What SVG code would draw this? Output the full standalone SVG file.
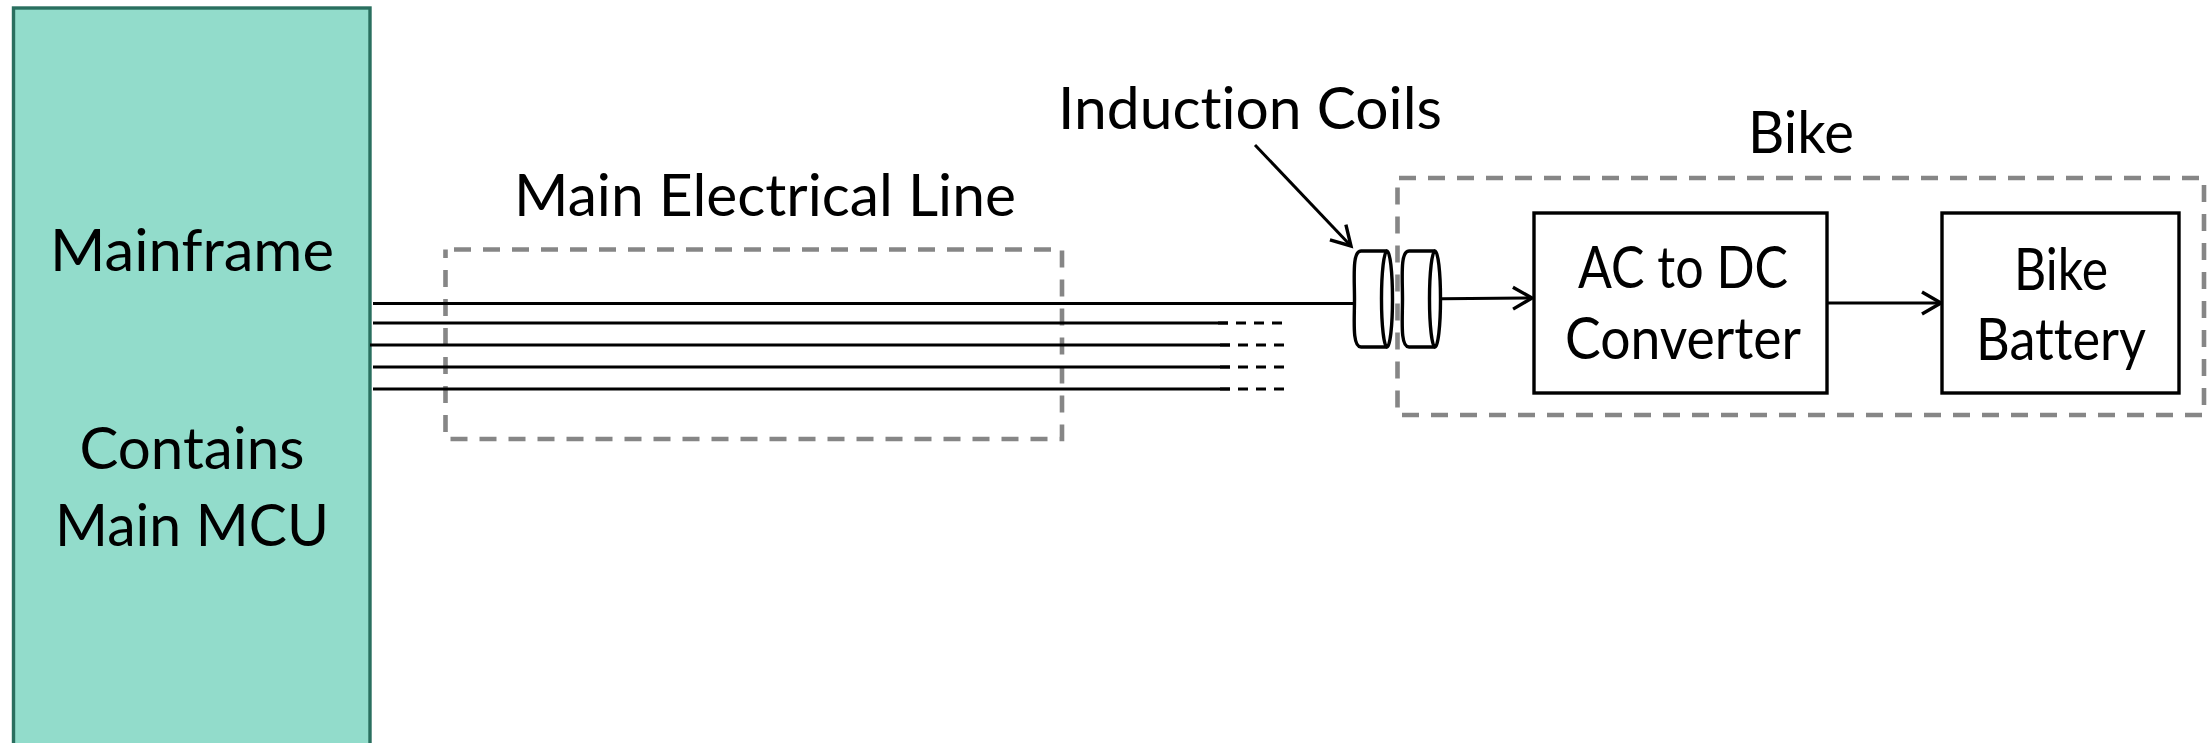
<svg xmlns="http://www.w3.org/2000/svg" width="2211" height="743" viewBox="0 0 2211 743">
<style>
text{font-family:Lato,"Noto Sans",sans-serif;font-size:59px;fill:#000;text-anchor:middle;font-variant-ligatures:none}
.box{fill:#fff;stroke:#000;stroke-width:3.4}
.dash{fill:none;stroke:#868686;stroke-width:4.6;stroke-dasharray:17 12}
.ln{fill:none;stroke:#000;stroke-width:3}
.ds{fill:none;stroke:#000;stroke-width:3;stroke-dasharray:10 8}
.coil{fill:#fff;stroke:#000;stroke-width:3.4;stroke-linejoin:round}
</style>
<defs>
<marker id="arr" markerUnits="userSpaceOnUse" markerWidth="26" markerHeight="30" refX="22" refY="15" orient="auto" viewBox="0 0 26 30">
<path d="M3 4 L22 15 L3 26" fill="none" stroke="#000" stroke-width="3.4"/>
</marker>
</defs>
<g id="main-electrical-line"><path class="dash" d="M454 249.500H1062V439H445.500V249.500"/></g>
<g id="bike"><path class="dash" d="M1399 178H2204V415H1397.500V178"/></g>
<g id="mainframe">
<rect x="13.500" y="8" width="356.500" height="740" fill="#92dccb" stroke="#2a6f5f" stroke-width="3.400"/>
<text x="192" y="270.500" textLength="284" lengthAdjust="spacingAndGlyphs">Mainframe</text>
<text x="192" y="468.500" textLength="225" lengthAdjust="spacingAndGlyphs">Contains</text>
<text x="192" y="545.500" textLength="274" lengthAdjust="spacingAndGlyphs">Main MCU</text>
</g>
<g id="connectors">
<path class="ln" d="M373 303.500H1355M373 323H1228M370 345H1230M373 367H1230M373 389H1230"/>
<path class="ds" d="M1218 323H1282M1220 345H1284M1220 367H1284M1220 389H1284"/>
<path class="ln" d="M1442 298.700L1532 298" marker-end="url(#arr)"/>
<path class="ln" d="M1827 303H1941" marker-end="url(#arr)"/>
<path class="ln" d="M1255 145L1351 246" marker-end="url(#arr)"/>
</g>
<g id="coil-1">
<path class="coil" d="M1361 251H1387A5.500 48 0 0 1 1387 347H1361C1352 347 1354.500 320 1354.500 299C1354.500 278 1352 251 1361 251Z"/>
<path class="coil" d="M1387 251A5.500 48 0 0 0 1387 347"/>
</g>
<g id="coil-2">
<path class="coil" d="M1409 251H1435A5.500 48 0 0 1 1435 347H1409C1400 347 1402.500 320 1402.500 299C1402.500 278 1400 251 1409 251Z"/>
<path class="coil" d="M1435 251A5.500 48 0 0 0 1435 347"/>
</g>
<g id="converter">
<rect class="box" x="1534" y="213" width="293" height="180"/>
<text x="1683" y="287.500" textLength="210" lengthAdjust="spacingAndGlyphs">AC to DC</text>
<text x="1683" y="358.500" textLength="236" lengthAdjust="spacingAndGlyphs">Converter</text>
</g>
<g id="battery">
<rect class="box" x="1942" y="213" width="237" height="180"/>
<text x="2061" y="289.500" textLength="94" lengthAdjust="spacingAndGlyphs">Bike</text>
<text x="2061" y="359.500" textLength="170" lengthAdjust="spacingAndGlyphs">Battery</text>
</g>
<g id="labels">
<text x="765" y="215.500" textLength="502" lengthAdjust="spacingAndGlyphs">Main Electrical Line</text>
<text x="1250" y="128.500" textLength="384" lengthAdjust="spacingAndGlyphs">Induction Coils</text>
<text x="1801" y="152.500" textLength="106" lengthAdjust="spacingAndGlyphs">Bike</text>
</g>
</svg>
